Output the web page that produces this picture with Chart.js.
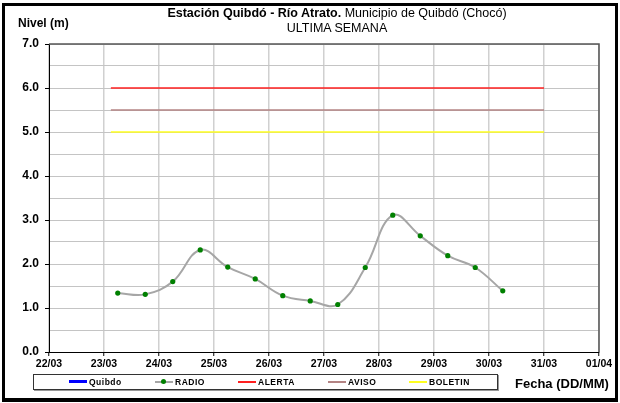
<!DOCTYPE html>
<html>
<head>
    <title>Estación Quibdó - Río Atrato</title>
    <script src="https://cdn.jsdelivr.net/npm/chart.js"></script>
    <style>
        body { margin: 0; background: #fff; font-family: "Liberation Sans", Arial, sans-serif; }
        #wrap { position: relative; width: 620px; height: 403px; overflow: hidden; }
        #frame { position: absolute; left: 2px; top: 3px; width: 616px; height: 399px; border: 3px solid #000; border-bottom-width: 4px; box-sizing: border-box; pointer-events: none; }
        #grafico { position: absolute; left: 0; top: 0; }
        .txt { position: absolute; color: #000; white-space: nowrap; }
        #titulo1 { left: 0; width: 674px; top: 6px; text-align: center; font-size: 12.5px; }
        #titulo2 { left: 0; width: 674px; top: 21px; text-align: center; font-size: 12.5px; }
        #ylabel { left: 18px; top: 16px; font-size: 12px; font-weight: bold; }
        #xlabel { left: 515px; top: 376px; font-size: 13px; font-weight: bold; }
        #leyenda { position: absolute; left: 33px; top: 374px; width: 465px; height: 16px; border: 1px solid #333; box-sizing: border-box; box-shadow: 1px 1px 0 #999; }
        .item { position: absolute; top: 0; height: 14px; font-size: 8.5px; font-weight: bold; line-height: 14px; letter-spacing: 0.5px; }
        .item .linea { position: absolute; left: 0; top: 6px; width: 18px; height: 2px; }
        .item .punto { position: absolute; left: 6px; top: 4px; width: 5px; height: 5px; border-radius: 50%; background: #008000; }
        .item span.lbl { position: absolute; left: 20px; top: 0; }
    </style>
</head>
<body>
<div id="wrap">
    <canvas id="grafico" width="620" height="403"></canvas>
    <div class="txt" id="titulo1"><b>Estación Quibdó - Río Atrato.</b> Municipio de Quibdó (Chocó)</div>
    <div class="txt" id="titulo2">ULTIMA SEMANA</div>
    <div class="txt" id="ylabel">Nivel (m)</div>
    <div class="txt" id="xlabel">Fecha (DD/MM)</div>
    <div id="leyenda"></div>
    <div id="frame"></div>
</div>
<script>
    // datos
    const etiquetasX = ['22/03', '23/03', '24/03', '25/03', '26/03', '27/03', '28/03', '29/03', '30/03', '31/03', '01/04'];
    const fechas = ['23/03 06:00', '23/03 18:00', '24/03 06:00', '24/03 18:00', '25/03 06:00', '25/03 18:00',
        '26/03 06:00', '26/03 18:00', '27/03 06:00', '27/03 18:00', '28/03 06:00', '28/03 18:00',
        '29/03 06:00', '29/03 18:00', '30/03 06:00'];
    const radio = [1.34, 1.31, 1.60, 2.32, 1.93, 1.66, 1.28, 1.16, 1.08, 1.92, 3.11, 2.64, 2.19, 1.92, 1.39];
    const quibdo = [];
    const alerta = 6.0;
    const aviso = 5.5;
    const boletin = 5.0;
    const umbralDesde = '23/03 03:00';
    const umbralHasta = '31/03 00:00';

    // dias desde 22/03 00:00
    function aDias(s) {
        const [fecha, hora] = s.split(' ');
        const [dd, mm] = fecha.split('/').map(Number);
        const [hh, mi] = (hora || '00:00').split(':').map(Number);
        const dia = mm === 3 ? dd - 22 : dd + 9;
        return dia + (hh + mi / 60) / 24;
    }

    function umbral(valor) {
        return [{ x: aDias(umbralDesde), y: valor }, { x: aDias(umbralHasta), y: valor }];
    }

    const series = [
        { label: 'Quibdo', data: quibdo, borderColor: '#0000ff', borderWidth: 2, pointRadius: 0 },
        {
            label: 'RADIO', data: fechas.map((f, i) => ({ x: aDias(f), y: radio[i] })),
            borderColor: '#a6a6a6', borderWidth: 2, tension: 0.4,
            pointRadius: 2.6, pointBackgroundColor: '#008000', pointBorderColor: '#008000', pointBorderWidth: 0
        },
        { label: 'ALERTA', data: umbral(alerta), borderColor: '#ff2020', borderWidth: 1.5, pointRadius: 0 },
        { label: 'AVISO', data: umbral(aviso), borderColor: '#b48484', borderWidth: 1.5, pointRadius: 0 },
        { label: 'BOLETIN', data: umbral(boletin), borderColor: '#ffff20', borderWidth: 1.5, pointRadius: 0 }
    ];

    // marco superior y derecho del area
    const marco = {
        id: 'marco',
        afterDraw(chart) {
            const a = chart.chartArea, c = chart.ctx;
            c.save();
            c.strokeStyle = '#555';
            c.lineWidth = 1.5;
            c.beginPath();
            c.moveTo(a.left, a.top);
            c.lineTo(a.right, a.top);
            c.lineTo(a.right, a.bottom);
            c.stroke();
            c.restore();
        }
    };

    new Chart(document.getElementById('grafico'), {
        type: 'line',
        data: { datasets: series },
        options: {
            responsive: false,
            animation: false,
            layout: { padding: { left: 0, right: 21, top: 44, bottom: 35 } },
            plugins: { legend: { display: false }, tooltip: { enabled: false } },
            scales: {
                x: {
                    type: 'linear', min: 0, max: 10,
                    afterFit: s => { s.height = 16; },
                    ticks: {
                        stepSize: 1, color: '#000', padding: 2, maxRotation: 0,
                        font: { family: 'Liberation Sans', size: 10.5, weight: 'bold' },
                        callback: v => etiquetasX[v]
                    },
                    grid: { color: '#d0d0d0', lineWidth: 1.5, tickLength: 4, tickColor: '#000', tickWidth: 1 },
                    border: { color: '#000', width: 1 }
                },
                y: {
                    min: 0, max: 7,
                    afterFit: s => { s.width = 49; },
                    ticks: {
                        stepSize: 0.5, color: '#000', padding: 6,
                        font: { family: 'Liberation Sans', size: 12, weight: 'bold' },
                        callback: v => (v % 1 === 0 ? v.toFixed(1) : '')
                    },
                    grid: {
                        color: '#c4c4c4', lineWidth: 1, tickLength: 4,
                        tickColor: c => (c.tick && c.tick.value % 1 === 0 ? '#000' : 'rgba(0,0,0,0)')
                    },
                    border: { color: '#000', width: 1 }
                }
            }
        },
        plugins: [marco]
    });

    // leyenda en caja
    const posiciones = [69, 155, 238, 328, 409];
    const leyenda = document.getElementById('leyenda');
    series.forEach((s, i) => {
        const it = document.createElement('div');
        it.className = 'item';
        it.style.left = (posiciones[i] - 34) + 'px';
        let html = '<div class="linea" style="background:' + s.borderColor + ';' + (i === 0 ? 'height:3px;top:5px;' : '') + '"></div>';
        if (s.label === 'RADIO') html += '<div class="punto"></div>';
        html += '<span class="lbl">' + s.label + '</span>';
        it.innerHTML = html;
        leyenda.appendChild(it);
    });
</script>
</body>
</html>
